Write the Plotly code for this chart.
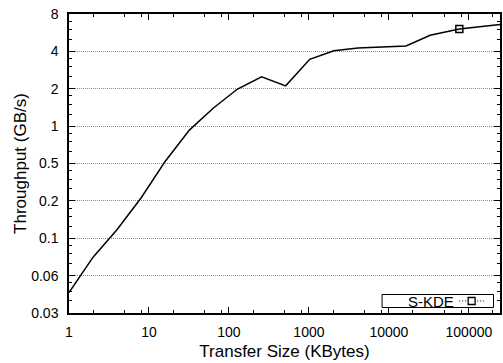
import plotly.graph_objects as go
import numpy as np

# Data (Transfer size in KBytes, throughput in GB/s)
sizes_kb = [1, 2, 4, 8, 16, 32, 64, 128, 256, 512, 1024, 2048, 4096, 8192,
            16384, 32768, 76000, 262144]
throughput = [0.0457, 0.088, 0.147, 0.265, 0.522, 0.929, 1.40, 1.99, 2.50, 2.11,
              3.45, 4.05, 4.25, 4.31, 4.42, 5.39, 6.06, 6.63]
marker_index = 16
series_name = "S-KDE"

x_tick_vals = [1, 10, 100, 1000, 10000, 100000]
x_tick_text = ["1", "10", "100", "1000", "10000", "100000"]
y_tick_vals = [2.0 ** p for p in range(-5, 4)]
y_tick_text = ["0.03", "0.06", "0.1", "0.2", "0.5", "1", "2", "4", "8"]

x_minor = [m * 10 ** d for d in range(0, 6) for m in (2, 5, 8)]
y_minor = [a * f for a in y_tick_vals[:-1] for f in (1.25, 1.5, 1.75)]

FONT = "Liberation Sans, Arial, Helvetica, sans-serif"

fig = go.Figure()
fig.add_trace(go.Scatter(x=sizes_kb, y=throughput, mode="lines",
                         line=dict(color="black", width=1.5),
                         showlegend=False, name=series_name))
fig.add_trace(go.Scatter(x=[sizes_kb[marker_index]], y=[throughput[marker_index]],
                         mode="markers",
                         marker=dict(symbol="square-open", size=7, color="black",
                                     line=dict(width=1.5, color="black")),
                         showlegend=False, name=series_name))

L, R, T, B = 69, 1, 14, 50
W, H = 503, 363
pw, ph = W - L - R, H - T - B

def px(xp):
    return (xp - L) / pw

def py(yp):
    return (H - B - yp) / ph

# legend box (drawn manually: text on left, sample on right)
fig.add_shape(type="rect", xref="paper", yref="paper",
              x0=px(383.5), x1=px(495.5), y0=py(307.5), y1=py(294.5),
              line=dict(color="black", width=1), fillcolor="white", layer="above")
fig.add_shape(type="line", xref="paper", yref="paper",
              x0=px(461), x1=px(486), y0=py(301), y1=py(301),
              line=dict(color="black", width=1, dash="1px,2px"), layer="above")
fig.add_shape(type="rect", xref="paper", yref="paper",
              x0=px(470), x1=px(477), y0=py(304.5), y1=py(297.5),
              line=dict(color="black", width=1.3), fillcolor="white", layer="above")
fig.add_annotation(xref="paper", yref="paper", x=px(458), y=py(301),
                   text=series_name, showarrow=False, xanchor="right", yanchor="middle",
                   font=dict(family=FONT, size=15, color="black"))

axis_common = dict(showline=True, linecolor="black", linewidth=1.5, mirror="ticks",
                   ticks="inside", ticklen=6, tickwidth=1, tickcolor="black",
                   tickfont=dict(family=FONT, size=14, color="black"),
                   zeroline=False)

fig.update_xaxes(type="log", range=[0, np.log10(245000)],
                 tickvals=x_tick_vals, ticktext=x_tick_text, showgrid=False,
                 minor=dict(tickvals=x_minor, ticks="inside", ticklen=3,
                            tickcolor="black", showgrid=False),
                 title=dict(text="Transfer Size (KBytes)",
                            font=dict(family=FONT, size=17, color="black"),
                            standoff=7),
                 ticklabelstandoff=5,
                 **axis_common)
fig.update_yaxes(type="log", range=[np.log10(2 ** -5), np.log10(8)],
                 tickvals=y_tick_vals, ticktext=y_tick_text,
                 showgrid=True, gridcolor="#8a8a8a", gridwidth=1, griddash="1px,1px",
                 minor=dict(tickvals=y_minor, ticks="inside", ticklen=3,
                            tickcolor="black", showgrid=False),
                 title=dict(text="Throughput (GB/s)",
                            font=dict(family=FONT, size=17, color="black"),
                            standoff=0),
                 ticklabelstandoff=6,
                 **axis_common)

fig.update_layout(width=W, height=H, margin=dict(l=L, r=R, t=T, b=B),
                  plot_bgcolor="white", paper_bgcolor="white",
                  font=dict(family=FONT, color="black"), showlegend=False)

fig.write_html("out.html")
